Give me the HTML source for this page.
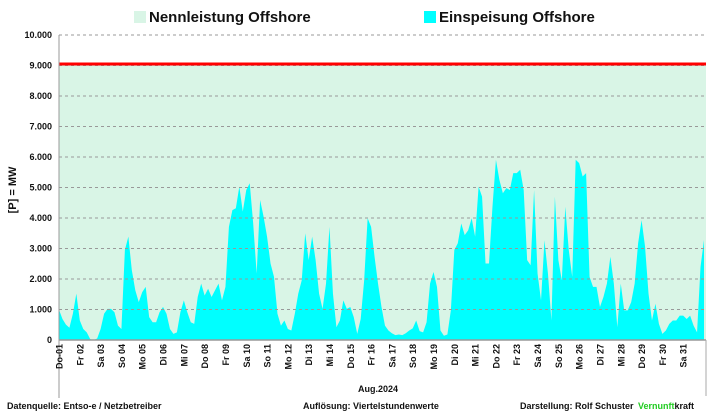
<!DOCTYPE html>
<html><head><meta charset="utf-8"><style>
body{margin:0;background:#fff;font-family:"Liberation Sans",sans-serif}
svg text{font-family:"Liberation Sans",sans-serif}
</style></head><body>
<svg id="c" width="711" height="411" viewBox="0 0 711 411">
<g>
<rect x="134" y="11" width="12" height="12" fill="#d9f5e6"/>
<text x="149" y="22" font-size="15" font-weight="bold" fill="#111">Nennleistung Offshore</text>
<rect x="424" y="11" width="12" height="12" fill="#00ffff"/>
<text x="439" y="22" font-size="15" font-weight="bold" fill="#111">Einspeisung Offshore</text>
</g>
<text transform="translate(16,190) rotate(-90)" text-anchor="middle" font-size="11" font-weight="bold" fill="#111">[P] = MW</text>
<g id="plot"></g>
<text x="378" y="392" text-anchor="middle" font-size="9" font-weight="bold" fill="#111">Aug.2024</text>
<g font-size="9" font-weight="bold" fill="#111">
<text x="7" y="409">Datenquelle:  Entso-e  / Netzbetreiber</text>
<text x="303" y="409">Auflösung: Viertelstundenwerte</text>
<text x="520" y="409">Darstellung:  Rolf Schuster</text>
<text x="638" y="409"><tspan fill="#22cc22">Vernunft</tspan>kraft</text>
</g>
</svg>
<script>
const yTicks=[0,1000,2000,3000,4000,5000,6000,7000,8000,9000,10000];
const yTickLabels=["0","1.000","2.000","3.000","4.000","5.000","6.000","7.000","8.000","9.000","10.000"];
const dayLabels=["Do-01","Fr 02","Sa 03","So 04","Mo 05","Di 06","Mi 07","Do 08","Fr 09","Sa 10","So 11","Mo 12","Di 13","Mi 14","Do 15","Fr 16","Sa 17","So 18","Mo 19","Di 20","Mi 21","Do 22","Fr 23","Sa 24","So 25","Mo 26","Di 27","Mi 28","Do 29","Fr 30","Sa 31"];
const capacity=9050;
const stepHours=4;
const feedIn=[990,690,505,400,860,1520,640,360,250,30,0,50,360,860,1020,1020,910,470,360,2950,3390,2290,1630,1240,1570,1740,750,580,580,910,1080,860,360,200,250,910,1300,910,580,530,1410,1850,1460,1680,1410,1630,1850,1300,1740,3710,4260,4320,5030,4210,4920,5140,3820,2180,4590,4040,3390,2510,2070,
860,470,640,360,310,860,1520,1960,3500,2620,3390,2620,1520,1020,1850,3710,1520,420,640,1300,1020,1080,750,200,690,1960,3990,3710,2730,1850,1080,470,310,220,160,180,160,220,310,380,640,290,250,580,1850,2230,1740,310,140,180,970,2950,3170,3820,3440,3600,3990,3390,5030,4700,2510,2510,
4370,5910,5250,4810,4980,4920,5470,5470,5580,4920,2620,2450,4920,2180,1300,3270,2180,640,4700,2620,1960,4370,2950,2070,5910,5800,5360,5470,2070,1740,1740,1080,1410,1850,2730,1850,420,1850,970,970,1240,1850,3170,3930,3060,1520,640,1190,530,200,310,530,640,640,800,800,690,800,470,250,2400,3280];
const X0=59,X1=704,Y0=340,Y1=35,totalHours=31*24;
const xH=h=>X0+(X1-X0)*h/totalHours;
const yV=v=>Y0-(Y0-Y1)*v/10000;
const NS="http://www.w3.org/2000/svg";
const g=document.getElementById('plot');
function mk(t,a){const e=document.createElementNS(NS,t);for(const k in a)e.setAttribute(k,a[k]);g.appendChild(e);return e;}
let e=mk('rect',{x:X0,y:yV(capacity),width:706-X0,height:Y0-yV(capacity),fill:'#d9f5e6'});


let d='M'+xH(0)+','+Y0;
feedIn.forEach((v,i)=>{d+=' L'+xH(i*stepHours).toFixed(2)+','+yV(v).toFixed(2);});
d+=' L'+xH((feedIn.length-1)*stepHours).toFixed(2)+','+Y0+' Z';
e=mk('path',{d:d,fill:'#00ffff'});


yTicks.forEach((t,i)=>{
  if(t>0){const l=mk('line',{x1:X0,x2:706,y1:yV(t),y2:yV(t),stroke:'#999','stroke-dasharray':'3,3','stroke-width':1});
  
  }
  const tx=mk('text',{x:52,y:yV(t)+3,'text-anchor':'end','font-size':9,'font-weight':'bold',fill:'#111'});
  tx.textContent=yTickLabels[i];
  
  
});
e=mk('line',{x1:X0,x2:706,y1:yV(capacity),y2:yV(capacity),stroke:'#ff0000','stroke-width':3});


e=mk('line',{x1:X0,x2:X0,y1:Y1,y2:398,stroke:'#999','stroke-width':1});


e=mk('line',{x1:X0,x2:706,y1:Y0,y2:Y0,stroke:'#999','stroke-width':1.5});


e=mk('line',{x1:706,x2:706,y1:Y0,y2:396,stroke:'#aaa','stroke-width':1});


dayLabels.forEach((lab,i)=>{
  const x=xH(i*24)+3.5;
  const t=mk('text',{transform:'translate('+x.toFixed(1)+',344) rotate(-90)','text-anchor':'end','font-size':9,'font-weight':'bold',fill:'#111'});
  t.textContent=lab;
  
  
});
</script>
</body></html>
